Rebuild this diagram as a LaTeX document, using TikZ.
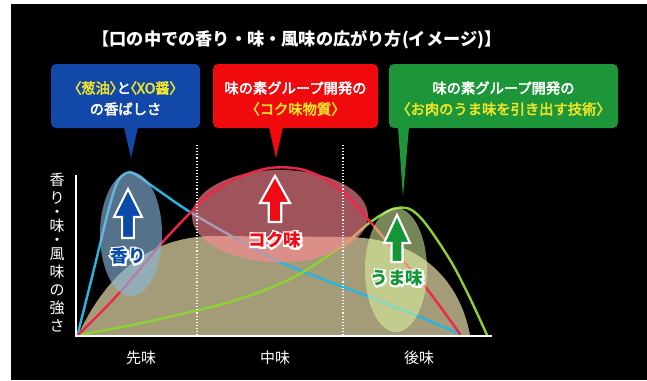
\documentclass[tikz,border=0pt]{standalone}
\usepackage{fontspec}
\setmainfont{Noto Sans CJK JP}
\newfontfamily\outlfont{Noto Sans CJK JP}[FakeBold=20, BoldFeatures={FakeBold=20}]
\newfontfamily\paltfont{Noto Sans CJK JP}[RawFeature=+palt, FakeBold=3]
\newfontfamily\boxfont{Noto Sans CJK JP}[FakeBold=3]
\definecolor{bluebox}{RGB}{18,72,170}
\definecolor{redbox}{RGB}{240,10,14}
\definecolor{greenbox}{RGB}{28,150,56}
\definecolor{yel}{RGB}{240,228,40}
\definecolor{cyanc}{RGB}{40,182,225}
\definecolor{redc}{RGB}{238,38,72}
\definecolor{greenc}{RGB}{140,210,55}
\definecolor{beige}{RGB}{164,156,120}
\definecolor{blueell}{RGB}{138,185,223}
\definecolor{redell}{RGB}{255,136,146}
\definecolor{greenell}{RGB}{218,245,160}
\definecolor{arrblue}{RGB}{10,74,168}
\definecolor{arrred}{RGB}{240,10,20}
\definecolor{arrgreen}{RGB}{20,150,55}
\tikzset{
  boxtext/.style={font=\boxfont\fontsize{14.3}{16}\selectfont, text=white, inner sep=0pt},
  bigl/.style={font=\fontsize{17.5}{18}\selectfont\bfseries, inner sep=0pt},
  bigo/.style={font=\outlfont\fontsize{17.5}{18}\selectfont\bfseries, inner sep=0pt, text=white},
  axl/.style={font=\fontsize{15}{16}\selectfont, text=white, inner sep=0pt},
  curve/.style={line width=2.4pt, line cap=round, line join=round},
  callout/.style={rounded corners=5pt},
}
\newcommand\blockarrow[6]{%
  \draw[white, line width=2.2pt, fill=#6]
    (#1,#2) -- (#1+#5,#3) -- (#1+0.42*#5,#3) -- (#1+0.42*#5,#4)
    -- (#1-0.42*#5,#4) -- (#1-0.42*#5,#3) -- (#1-#5,#3) -- cycle;}
\newcommand\outlinedlabel[5]{%
  \node[bigo] (#1o) at (#2,#3) {#5};
  \node[bigl, text=#4] (#1) at (#2,#3) {#5};}
\begin{document}
\begin{tikzpicture}[x=1pt,y=-1pt]
\useasboundingbox (0,0) rectangle (647,380);
\fill[white] (0,0) rectangle (647,380);
\fill[black] (11,4) rectangle (647,380);

% title
\node[font=\fontsize{17.2}{18}\selectfont\bfseries, text=white, inner sep=0pt] (title) at (297,40)
  {【口の中での香り・味・風味の広がり方(イメージ)】};

% callout boxes
\fill[bluebox, callout] (51,64) rectangle (200,128);
\fill[bluebox] (124,127) -- (138,127) -- (131,158) -- cycle;
\node[boxtext, font=\paltfont\fontsize{14.3}{16}\selectfont] (b1a) at (125.5,88) {{\color{yel}〈葱油〉}と{\color{yel}〈XO醤〉}};
\node[boxtext] (b1b) at (125.5,109) {の香ばしさ};

\fill[redbox, callout] (213,64) rectangle (378,128);
\fill[redbox] (269,127) -- (283,127) -- (276,158) -- cycle;
\node[boxtext] (b2a) at (295.5,88) {味の素グループ開発の};
\node[boxtext, text=yel] (b2b) at (295.5,109) {〈コク味物質〉};

\fill[greenbox, callout] (389,64) rectangle (618,128);
\fill[greenbox] (398,127) -- (409,127) -- (403,197) -- cycle;
\node[boxtext] (b3a) at (503.5,88) {味の素グループ開発の};
\node[boxtext, text=yel] (b3b) at (503.5,109) {〈お肉のうま味を引き出す技術〉};

% beige area
\fill[beige] (78,335) .. controls (108,272) and (150,238) .. (210,236)
  -- (350,237) .. controls (432,240) and (462,292) .. (470,335) -- cycle;

% cyan curve
\draw[curve, cyanc] plot[smooth, tension=0.55] coordinates {
 (78,333) (95,265) (108,212) (117,183) (126,173) (135,174) (155,188) (190,212)
 (235,238) (280,262) (325,280) (370,297) (415,315) (460,334)};
% green curve
\draw[curve, greenc] plot[smooth, tension=0.6] coordinates {
 (78,335) (137,324) (190,312) (230,302) (270,288) (303,272) (343,245)
 (372,221) (397,208) (418,215) (447,255) (467,292) (487,335)};

% red ellipse
\fill[redell, opacity=0.62] (280,216) ellipse [x radius=88, y radius=46];

% red curve
\draw[curve, redc] plot[smooth, tension=0.55] coordinates {
 (78,335) (110,303) (135,275) (160,245) (190,213) (210,194) (237,178) (270,168)
 (300,169) (325,179) (345,194) (367,218) (393,249) (427,289) (460,334)};

% blue and green ellipses
\fill[blueell, opacity=0.62] (131,234) ellipse [x radius=31, y radius=62];
\fill[greenell, opacity=0.55] (396,270) ellipse [x radius=31, y radius=62];

% dotted separators
\draw[white, line width=1.1pt, dotted] (197,145) -- (197,335);
\draw[white, line width=1.1pt, dotted] (343,145) -- (343,335);

% axes
\draw[white, line width=2pt] (76,175) -- (76,336) -- (492,336);

% arrows
\blockarrow{128}{189}{217}{238}{14}{arrblue}
\blockarrow{275}{176}{203}{222}{15}{arrred}
\blockarrow{397}{215}{243}{262}{13}{arrgreen}

% arrow labels
\outlinedlabel{lk}{128}{256}{arrblue}{香り}
\outlinedlabel{lr}{275}{240}{arrred}{コク味}
\outlinedlabel{lu}{397}{278}{arrgreen}{うま味}

% axis labels
\node[axl, align=center, font=\fontsize{15}{18}\selectfont] (ylab) at (57,253)
  {香\\り\\[-4pt]・\\[-4pt]味\\[-4pt]・\\[-4pt]風\\味\\の\\強\\さ};
\node[axl] (x1) at (141,358) {先味};
\node[axl] (x2) at (275,358) {中味};
\node[axl] (x3) at (419,358) {後味};
\end{tikzpicture}
\end{document}
